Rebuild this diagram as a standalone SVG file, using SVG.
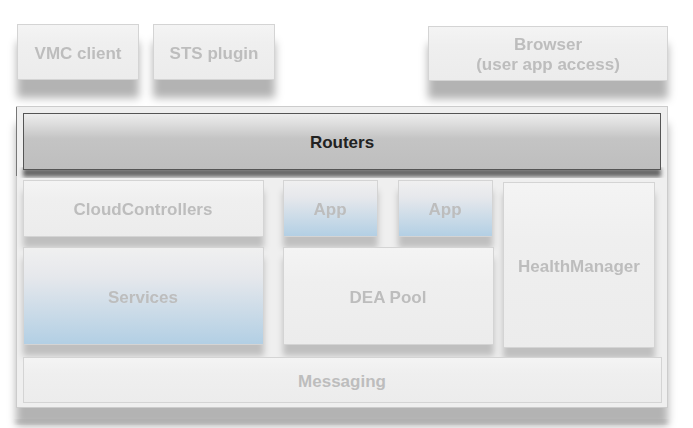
<svg xmlns="http://www.w3.org/2000/svg" width="693" height="428" viewBox="0 0 693 428">
  <style>
    .box { fill: url(#gBox); stroke: #d4d4d4; stroke-width: 1; }
    .blue { fill: url(#gBlue); stroke: #d4d4d4; stroke-width: 1; }
    .lbl { font-family: "Liberation Sans", Arial, sans-serif; font-weight: bold; font-size: 17px; fill: #bdbdbd; text-anchor: middle; }
    .dark { fill: #222; }
  </style>
  <defs>
    <linearGradient id="gBox" x1="0" y1="0" x2="0" y2="1">
      <stop offset="0" stop-color="#f4f4f4"/>
      <stop offset="0.35" stop-color="#efefef"/>
      <stop offset="1" stop-color="#ececec"/>
    </linearGradient>
    <linearGradient id="gBlue" x1="0" y1="0" x2="0" y2="1">
      <stop offset="0" stop-color="#f0f0f0"/>
      <stop offset="0.3" stop-color="#e6e8ec"/>
      <stop offset="1" stop-color="#b2cfe4"/>
    </linearGradient>
    <linearGradient id="gRouter" x1="0" y1="0" x2="0" y2="1">
      <stop offset="0" stop-color="#eeeeee"/>
      <stop offset="0.2" stop-color="#dcdcdc"/>
      <stop offset="0.45" stop-color="#c4c4c4"/>
      <stop offset="1" stop-color="#bebebe"/>
    </linearGradient>
    <filter id="shadow" x="-10%" y="-20%" width="120%" height="180%">
      <feGaussianBlur in="SourceAlpha" stdDeviation="4"/>
      <feOffset dy="18" result="b"/>
      <feFlood flood-color="#000" flood-opacity="0.3"/>
      <feComposite in2="b" operator="in"/>
      <feMerge><feMergeNode/><feMergeNode in="SourceGraphic"/></feMerge>
    </filter>
    <filter id="shadowSm" x="-10%" y="-20%" width="120%" height="160%">
      <feGaussianBlur in="SourceAlpha" stdDeviation="3"/>
      <feOffset dy="11" result="b"/>
      <feFlood flood-color="#000" flood-opacity="0.2"/>
      <feComposite in2="b" operator="in"/>
      <feMerge><feMergeNode/><feMergeNode in="SourceGraphic"/></feMerge>
    </filter>
    <filter id="blur2"><feGaussianBlur stdDeviation="2"/></filter>
  </defs>

  <rect width="693" height="428" fill="#ffffff"/>

  <!-- client tier -->
  <g id="vmc-client" filter="url(#shadow)">
    <rect class="box" x="17.5" y="24.5" width="121" height="55"/>
    <text class="lbl" x="78" y="59">VMC client</text>
  </g>
  <g id="sts-plugin" filter="url(#shadow)">
    <rect class="box" x="153.5" y="24.5" width="121" height="55"/>
    <text class="lbl" x="214" y="59">STS plugin</text>
  </g>
  <g id="browser" filter="url(#shadow)">
    <rect class="box" x="428.5" y="26.5" width="239" height="54"/>
    <text class="lbl" x="548" y="50">Browser</text>
    <text class="lbl" x="548" y="70">(user app access)</text>
  </g>

  <!-- cloud container -->
  <g id="cloud" filter="url(#shadow)">
    <rect x="16.5" y="106.5" width="651" height="301" fill="#efefef" stroke="#cccccc"/>
  </g>
  <rect x="16" y="420" width="651" height="4" fill="#999" opacity="0.5" filter="url(#blur2)"/>
  <line x1="16.5" y1="107" x2="16.5" y2="176" stroke="#777" stroke-width="1"/>

  <!-- routers band -->
  <g id="routers">
    <rect x="23" y="168" width="638" height="9" fill="#686868" filter="url(#blur2)"/>
    <rect x="23.5" y="113.5" width="637" height="56" fill="url(#gRouter)" stroke="#555"/>
    <text class="lbl dark" x="342" y="148">Routers</text>
  </g>

  <g id="cloud-controllers" filter="url(#shadowSm)">
    <rect class="box" x="23.5" y="180.5" width="240" height="56"/>
    <text class="lbl" x="143" y="215">CloudControllers</text>
  </g>
  <g id="app-1" filter="url(#shadowSm)">
    <rect class="blue" x="283.5" y="180.5" width="94" height="56"/>
    <text class="lbl" x="330" y="215">App</text>
  </g>
  <g id="app-2" filter="url(#shadowSm)">
    <rect class="blue" x="398.5" y="180.5" width="94" height="56"/>
    <text class="lbl" x="445" y="215">App</text>
  </g>
  <g id="health-manager" filter="url(#shadowSm)">
    <rect class="box" x="503.5" y="182.5" width="151" height="165"/>
    <text class="lbl" x="579" y="272">HealthManager</text>
  </g>
  <g id="services" filter="url(#shadowSm)">
    <rect class="blue" x="23.5" y="247.5" width="240" height="97"/>
    <text class="lbl" x="143" y="303">Services</text>
  </g>
  <g id="dea-pool" filter="url(#shadowSm)">
    <rect class="box" x="283.5" y="247.5" width="210" height="97"/>
    <text class="lbl" x="388" y="303">DEA Pool</text>
  </g>
  <g id="messaging">
    <rect class="box" x="23.5" y="357.5" width="638" height="45"/>
    <text class="lbl" x="342" y="387">Messaging</text>
  </g>

  <g id="connectors"/>
</svg>
